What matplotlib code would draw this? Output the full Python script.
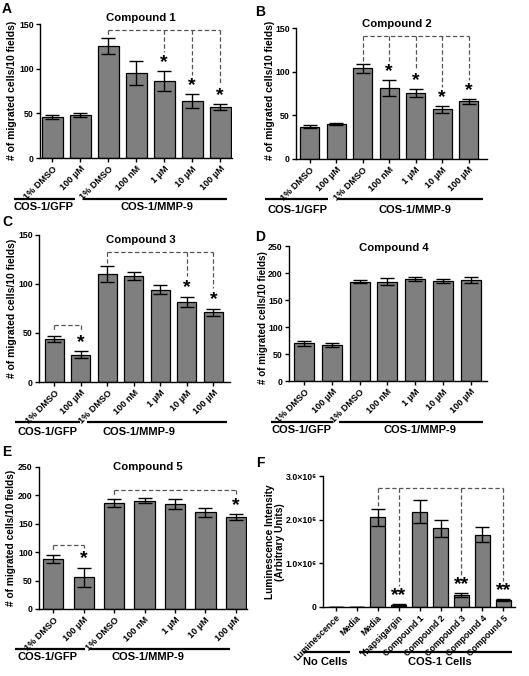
import matplotlib
matplotlib.use("Agg")
import matplotlib.pyplot as plt
from matplotlib.lines import Line2D
from matplotlib.transforms import ScaledTranslation

plt.rcParams['font.family'] = ['Liberation Sans', 'DejaVu Sans']
plt.rcParams['font.weight'] = 'bold'

W, H = 529, 676

# ---------------- data ----------------
dose_labels = ["1% DMSO", "100 µM", "1% DMSO", "100 nM", "1 µM", "10 µM", "100 µM"]

A_mean = [46, 48, 125, 95, 86, 64, 57]
A_err = [2.5, 2.5, 9, 13.5, 11.5, 7.5, 3.5]
B_mean = [37, 40, 104, 81, 76, 57, 66]
B_err = [2, 1.5, 5, 9, 4.5, 4, 3]
C_mean = [44, 28, 110, 108, 94, 82, 71]
C_err = [3, 3.5, 8, 4, 4.5, 5, 4]
D_mean = [70, 66, 184, 184, 189, 185, 187]
D_err = [5, 3.5, 3, 7, 3.5, 3.5, 5.5]
E_mean = [88, 56, 187, 191, 185, 170, 162]
E_err = [7, 17, 7, 5, 9, 8, 5.5]

F_labels = ["Luminescence", "Media", "Media", "Thapsigargin", "Compound 1",
            "Compound 2", "Compound 3", "Compound 4", "Compound 5"]
F_mean = [0, 0, 2.05e6, 0.05e6, 2.18e6, 1.80e6, 0.27e6, 1.66e6, 0.16e6]
F_err = [0, 0, 0.19e6, 0.02e6, 0.26e6, 0.19e6, 0.05e6, 0.18e6, 0.02e6]
F_ticks = [0, 1e6, 2e6, 3e6]
F_ticklabels = ["0", "1.0×10⁶", "2.0×10⁶", "3.0×10⁶"]

# brackets: (reference index, target indices, bracket level, star text)
A_sig = [(2, [4, 5, 6], 143, "*")]
B_sig = [(2, [3, 4, 5, 6], 140.5, "*")]
C_sig = [(0, [1], 58, "*"), (2, [5, 6], 133, "*")]
D_sig = []
E_sig = [(0, [1], 113, "*"), (2, [6], 210, "*")]
F_sig = [(2, [3, 6, 8], 2.72e6, "**")]

titles = ["Compound 1", "Compound 2", "Compound 3", "Compound 4", "Compound 5"]
ylab = "# of migrated cells/10 fields)"

# ---------------- layout (pixels) ----------------
fig = plt.figure(figsize=(W / 100, H / 100), dpi=100)
fig.patch.set_facecolor('white')


def fx(x):
    return x / W


def fy(y):
    return 1 - y / H


def make_ax(l, t, r, b):
    return fig.add_axes([fx(l), fy(b), (r - l) / W, (b - t) / H])


BAR_COLOR = '#7f7f7f'


def draw_panel(rect, means, errs, labels, ymax, ticks, xlim, width,
               sigs, ticklabels=None, tick_fs=6.6, ylabel=None,
               ylab_xy=None, title=None, title_xy=None, ylab_fs=7.5):
    l, t, r, b = rect
    ax = make_ax(l, t, r, b)
    xs = list(range(len(means)))
    ax.bar(xs, means, width=width, color=BAR_COLOR, edgecolor='black',
           linewidth=0.9, zorder=2)
    ax.errorbar(xs, means, yerr=errs, fmt='none', ecolor='black',
                elinewidth=1.0, capsize=5.0, capthick=1.0, zorder=3)
    ax.set_xlim(*xlim)
    ax.set_ylim(0, ymax)
    ax.set_yticks(ticks)
    if ticklabels is not None:
        ax.set_yticklabels(ticklabels)
    ax.set_xticks(xs)
    ax.set_xticklabels(labels, rotation=45, ha='right',
                       rotation_mode='anchor', fontsize=tick_fs,
                       fontweight='bold')
    shift = ScaledTranslation(0.05, 0.01, fig.dpi_scale_trans)
    for lab in ax.get_xticklabels():
        lab.set_transform(lab.get_transform() + shift)
    for s in ['top', 'right']:
        ax.spines[s].set_visible(False)
    for s in ['left', 'bottom']:
        ax.spines[s].set_linewidth(1.0)
    ax.tick_params(axis='both', direction='out', length=3, width=1.0,
                   labelsize=6.3, pad=1.5)
    ax.tick_params(axis='x', pad=1.5, labelsize=tick_fs)
    for lab in ax.get_yticklabels():
        lab.set_fontweight('bold')
    ax.set_facecolor('none')
    # significance brackets
    dash = dict(color='#555555', lw=0.9, linestyle=(0, (3.5, 2)), zorder=4)
    for ref, targets, level, star in sigs:
        ax.plot([ref, targets[-1]], [level, level], **dash)
        ax.plot([ref, ref], [level, means[ref] + errs[ref] + 0.025 * ymax], **dash)
        for tg in targets:
            top = means[tg] + errs[tg]
            ax.plot([tg, tg], [level, top + 0.14 * ymax], **dash)
            ax.text(tg, top + 0.03 * ymax, star, ha='center', va='baseline',
                    fontsize=14, fontweight='bold', zorder=5)
    if ylabel:
        ax.text((ylab_xy[0] - l) / (r - l), (b - ylab_xy[1]) / (b - t), ylabel,
                transform=ax.transAxes, rotation=90, ha='center', va='center',
                fontsize=ylab_fs, fontweight='bold', linespacing=1.0)
    if title:
        fig.text(fx(title_xy[0]), fy(title_xy[1]), title, ha='center',
                 va='center', fontsize=8.2, fontweight='bold')
    return ax


def group_line(x0, x1, y):
    fig.add_artist(Line2D([fx(x0), fx(x1)], [fy(y), fy(y)], color='black',
                          lw=1.6, solid_capstyle='butt'))


def group_text(x, y, s):
    fig.text(fx(x), fy(y), s, ha='center', va='center', fontsize=8,
             fontweight='bold')


def letter(x, y, s):
    fig.text(fx(x), fy(y), s, ha='left', va='center', fontsize=10,
             fontweight='bold')


# Panel A
draw_panel((40, 24, 232, 158), A_mean, A_err, dose_labels, 150, [0, 50, 100, 150],
           (-0.44, 6.42), 0.74, A_sig, ylabel=ylab, ylab_xy=(12.5, 90),
           title=titles[0], title_xy=(141, 18))
group_line(14, 75, 199); group_line(83, 227, 199)
group_text(44, 207, "COS-1/GFP"); group_text(157, 207, "COS-1/MMP-9")
letter(2, 9, "A")

# Panel B
draw_panel((296, 28, 487, 159), B_mean, B_err, dose_labels, 150, [0, 50, 100, 150],
           (-0.51, 6.69), 0.72, B_sig, ylabel=ylab, ylab_xy=(270, 90),
           title=titles[1], title_xy=(397, 24))
group_line(265, 328, 199); group_line(337, 483, 199)
group_text(298, 210, "COS-1/GFP"); group_text(415, 210, "COS-1/MMP-9")
letter(255, 12, "B")

# Panel C
draw_panel((39, 235, 230, 382), C_mean, C_err, dose_labels, 150, [0, 50, 100, 150],
           (-0.57, 6.63), 0.72, C_sig, ylabel=ylab, ylab_xy=(12.5, 308),
           title=titles[2], title_xy=(141, 240))
group_line(15, 80, 422); group_line(87, 227, 422)
group_text(48, 432, "COS-1/GFP"); group_text(139, 432, "COS-1/MMP-9")
letter(2, 222, "C")

# Panel D
draw_panel((289, 246, 487, 381), D_mean, D_err, dose_labels, 250,
           [0, 50, 100, 150, 200, 250], (-0.55, 6.59), 0.72, D_sig,
           ylabel=ylab, ylab_xy=(263, 318), title=titles[3], title_xy=(394, 248),
           ylab_fs=7.1)
group_line(271, 333, 422); group_line(339, 483, 422)
group_text(302, 430, "COS-1/GFP"); group_text(420, 430, "COS-1/MMP-9")
letter(255, 237, "D")

# Panel E
draw_panel((39, 467, 247, 609), E_mean, E_err, dose_labels, 250,
           [0, 50, 100, 150, 200, 250], (-0.47, 6.37), 0.67, E_sig,
           ylabel=ylab, ylab_xy=(11.5, 538), title=titles[4], title_xy=(148, 467),
           ylab_fs=7.3)
group_line(15, 85, 649); group_line(89, 230, 649)
group_text(47, 657, "COS-1/GFP"); group_text(148, 657, "COS-1/MMP-9")
letter(2, 452, "E")

# Panel F
draw_panel((323, 476, 515, 607), F_mean, F_err, F_labels, 3e6, F_ticks,
           (-0.6, 8.55), 0.7, F_sig, ticklabels=F_ticklabels, tick_fs=6.3,
           ylabel="Luminescence Intensity\n(Arbitrary Units)", ylab_xy=(275, 542),
           ylab_fs=7.3)
group_line(303, 350, 652); group_line(359, 512, 652)
group_text(325, 662, "No Cells"); group_text(440, 662, "COS-1 Cells")
letter(256, 463, "F")

fig.savefig("out.png", dpi=100, facecolor='white')
